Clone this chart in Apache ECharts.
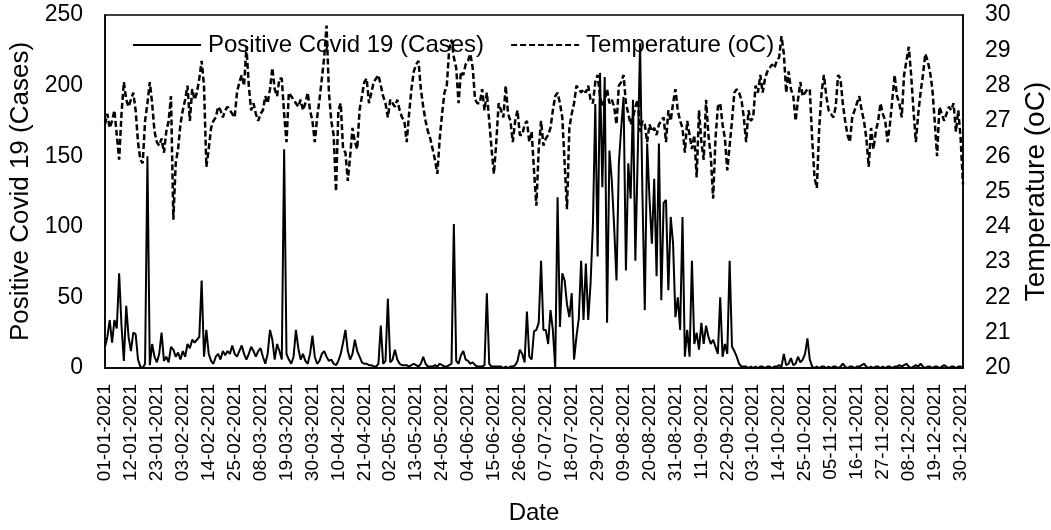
<!DOCTYPE html>
<html>
<head>
<meta charset="utf-8">
<script src="https://cdn.jsdelivr.net/npm/echarts@6/dist/echarts.min.js"></script>
<style>
  html, body { margin: 0; padding: 0; background: #fff; }
  #chart { width: 1051px; height: 530px; }
</style>
</head>
<body>
<div id="chart"></div>
<script>
// Daily positive Covid 19 cases, 01-01-2021 .. 31-12-2021
const cases = [
  15, 22, 34, 18, 34, 28, 67, 30, 5, 44,
  22, 12, 25, 24, 6, 1, 0, 3, 150, 2,
  17, 8, 4, 10, 25, 5, 8, 4, 15, 13,
  8, 11, 6, 12, 8, 17, 14, 20, 18, 20,
  22, 62, 8, 27, 10, 5, 3, 8, 10, 6,
  12, 9, 12, 10, 16, 10, 8, 12, 16, 10,
  6, 10, 15, 12, 8, 12, 14, 8, 3, 10,
  27, 20, 6, 17, 12, 6, 155, 10, 6, 3,
  8, 27, 14, 6, 10, 5, 3, 10, 23, 8,
  3, 5, 10, 12, 8, 5, 6, 3, 2, 5,
  10, 18, 27, 12, 6, 10, 20, 12, 8, 4,
  3, 3, 2, 2, 1, 1, 3, 30, 3, 5,
  49, 4, 6, 13, 6, 3, 2, 2, 2, 1,
  2, 3, 2, 1, 3, 8, 3, 1, 1, 1,
  2, 1, 3, 2, 1, 1, 2, 3, 102, 5,
  3, 9, 12, 6, 5, 3, 4, 2, 1, 1,
  1, 2, 53, 3, 1, 1, 1, 1, 1, 0,
  1, 0, 1, 1, 2, 5, 13, 10, 4, 40,
  8, 6, 26, 27, 32, 76, 27, 27, 17, 41,
  27, 0, 121, 29, 67, 62, 45, 36, 53, 6,
  22, 35, 76, 34, 74, 34, 60, 102, 187, 79,
  209, 128, 206, 32, 154, 133, 100, 62, 145, 170,
  192, 69, 145, 120, 190, 76, 150, 230, 123, 41,
  159, 120, 88, 134, 65, 159, 48, 117, 119, 55,
  107, 88, 36, 50, 27, 107, 8, 27, 8, 76,
  17, 25, 13, 32, 17, 30, 22, 17, 20, 15,
  10, 50, 8, 17, 10, 76, 15, 12, 8, 3,
  1, 1, 1, 0, 1, 0, 1, 0, 1, 1,
  0, 1, 1, 0, 1, 1, 2, 1, 10, 2,
  3, 7, 2, 3, 8, 4, 6, 10, 21, 6,
  1, 0, 1, 0, 1, 1, 0, 1, 0, 1,
  1, 0, 1, 3, 1, 0, 1, 1, 0, 1,
  1, 2, 3, 1, 0, 1, 0, 1, 1, 0,
  1, 0, 1, 1, 0, 1, 1, 2, 1, 2,
  3, 1, 0, 1, 2, 1, 3, 1, 0, 1,
  1, 0, 1, 1, 0, 1, 2, 1, 0, 1,
  1, 0, 1, 1, 0
];

// Daily temperature (oC)
const temperature = [
  26.9, 27.2, 26.8, 27.0, 27.3, 26.6, 25.9, 27.2, 28.1, 27.6,
  27.4, 27.6, 27.8, 27.3, 26.4, 25.9, 25.8, 27.0, 27.5, 28.1,
  27.5, 26.7, 26.4, 26.3, 26.5, 26.1, 26.7, 27.0, 27.7, 24.2,
  25.8, 26.2, 26.9, 27.3, 27.6, 28.0, 27.0, 27.9, 27.6, 27.8,
  28.2, 28.7, 28.0, 25.7, 26.2, 26.8, 27.0, 27.1, 27.4, 27.3,
  27.1, 27.3, 27.4, 27.3, 27.2, 27.1, 27.8, 28.1, 28.3, 28.0,
  29.1, 28.0, 27.3, 27.5, 27.2, 27.0, 27.2, 27.3, 27.7, 27.5,
  27.9, 28.5, 27.9, 27.7, 28.2, 28.2, 27.2, 26.4, 27.8, 27.7,
  27.6, 27.5, 27.4, 27.6, 27.3, 27.5, 27.8, 27.3, 27.0, 26.4,
  27.1, 27.6, 28.2, 28.8, 29.7, 27.8, 27.0, 26.6, 25.0, 27.3,
  27.5, 26.2, 26.1, 25.3, 26.0, 26.8, 26.4, 26.2, 27.3, 27.7,
  28.1, 28.2, 27.5, 27.8, 28.1, 28.2, 28.3, 28.0, 27.7, 27.5,
  27.1, 27.6, 27.5, 27.4, 27.6, 27.3, 27.1, 27.0, 26.4, 27.2,
  27.9, 28.4, 28.6, 28.7, 27.9, 27.4, 27.0, 26.7, 26.5, 26.2,
  25.9, 25.5, 26.5, 27.2, 27.8, 28.0, 29.0, 29.3, 28.8, 28.5,
  27.5, 28.4, 28.3, 28.6, 28.7, 28.9, 28.5, 27.6, 27.5, 27.5,
  27.9, 27.3, 27.8, 27.0, 26.2, 25.5, 26.4, 27.5, 27.3, 27.1,
  28.0, 27.2, 27.0, 26.4, 27.0, 27.3, 26.6, 26.6, 26.9, 27.0,
  26.4, 26.7, 25.6, 24.6, 26.2, 27.0, 26.3, 26.5, 26.6, 26.8,
  27.3, 27.7, 27.8, 27.5, 27.1, 25.8, 24.5, 26.8, 27.2, 27.5,
  28.0, 27.9, 27.8, 27.9, 27.8, 28.0, 27.6, 27.5, 28.1, 28.3,
  27.7, 27.4, 27.6, 27.9, 27.5, 27.6, 27.4, 26.9, 28.0, 28.1,
  28.3, 27.5, 27.2, 26.9, 27.1, 27.4, 27.6, 26.7, 27.0, 26.9,
  26.4, 26.9, 26.7, 26.8, 26.6, 26.9, 27.0, 27.1, 26.4, 27.3,
  27.0, 27.5, 27.9, 27.3, 27.0, 26.8, 26.1, 27.0, 26.6, 26.2,
  26.6, 25.4, 27.3, 26.4, 25.9, 27.6, 26.6, 26.0, 24.8, 26.5,
  27.4, 27.5, 26.9, 26.5, 25.6, 26.3, 27.0, 27.8, 27.9, 27.8,
  27.6, 27.1, 26.4, 27.3, 27.0, 27.1, 28.0, 27.8, 28.3, 27.8,
  28.2, 28.4, 28.5, 28.6, 28.5, 28.7, 28.8, 29.4, 28.9, 27.8,
  28.4, 27.9, 27.7, 27.0, 27.6, 28.1, 27.7, 27.8, 27.9, 27.9,
  26.5, 25.4, 25.1, 26.8, 27.8, 28.3, 27.7, 27.3, 27.2, 27.1,
  27.4, 28.3, 28.2, 27.5, 27.0, 26.6, 26.4, 27.1, 27.3, 27.5,
  27.7, 27.3, 27.0, 26.5, 25.7, 26.8, 26.2, 26.7, 27.0, 27.5,
  27.2, 27.0, 26.4, 26.9, 27.6, 28.3, 27.7, 27.5, 27.1, 28.3,
  28.7, 29.1, 28.3, 27.3, 26.4, 27.2, 27.8, 28.3, 28.9, 28.7,
  28.4, 27.9, 27.0, 26.0, 27.4, 27.2, 27.0, 27.2, 27.4, 27.3,
  27.5, 26.7, 27.3, 26.5, 25.2
];

// Category labels: one per day of 2021, dd-mm-yyyy
const dates = [];
for (let i = 0; i < cases.length; i++) {
  const d = new Date(Date.UTC(2021, 0, 1 + i));
  const dd = String(d.getUTCDate()).padStart(2, '0');
  const mm = String(d.getUTCMonth() + 1).padStart(2, '0');
  dates.push(`${dd}-${mm}-${d.getUTCFullYear()}`);
}

const FONT = '"Liberation Sans", Arial, sans-serif';
const chart = echarts.init(document.getElementById('chart'), null, { renderer: 'canvas' });

chart.setOption({
  animation: false,
  backgroundColor: '#fff',
  textStyle: { fontFamily: FONT, color: '#000' },
  grid: {
    left: 105, right: 88, top: 15, bottom: 162,
    outerBoundsMode: 'none',
    show: true, borderColor: '#000', borderWidth: 1.5
  },
  legend: {
    left: 127, top: 28,
    itemWidth: 68, itemHeight: 14, itemGap: 26,
    // hide the marker dot, keep only the line sample
    itemStyle: { opacity: 0 },
    textStyle: { fontFamily: FONT, fontSize: 24, color: '#000', padding: [0, 0, 0, 2] },
    data: ['Positive Covid 19 (Cases)', 'Temperature (oC)']
  },
  xAxis: {
    type: 'category',
    data: dates,
    boundaryGap: false,
    name: 'Date',
    nameLocation: 'middle',
    nameGap: 133,
    nameTextStyle: { fontFamily: FONT, fontSize: 24, color: '#000' },
    axisLine: { lineStyle: { color: '#000', width: 1.5 } },
    axisTick: { show: false },
    axisLabel: {
      interval: 10, rotate: 90, margin: 16,
      fontFamily: FONT, fontSize: 19, color: '#000'
    },
    splitLine: { show: false }
  },
  yAxis: [
    {
      type: 'value', min: 0, max: 250, interval: 50,
      name: 'Positive Covid 19 (Cases)',
      nameLocation: 'middle', nameGap: 69,
      nameTextStyle: { fontFamily: FONT, fontSize: 26, color: '#000' },
      axisLine: { show: true, lineStyle: { color: '#000', width: 1.5 } },
      axisTick: { show: false },
      axisLabel: { margin: 22, fontFamily: FONT, fontSize: 23, color: '#000' },
      splitLine: { show: false }
    },
    {
      type: 'value', min: 20, max: 30, interval: 1,
      name: 'Temperature (oC)',
      nameLocation: 'middle', nameGap: 59,
      nameTextStyle: { fontFamily: FONT, fontSize: 28, color: '#000' },
      axisLine: { show: true, lineStyle: { color: '#000', width: 1.5 } },
      axisTick: { show: false },
      axisLabel: { margin: 22, fontFamily: FONT, fontSize: 23, color: '#000' },
      splitLine: { show: false }
    }
  ],
  series: [
    {
      name: 'Positive Covid 19 (Cases)',
      type: 'line',
      yAxisIndex: 0,
      data: cases,
      symbol: 'none',
      lineStyle: { color: '#000', width: 2 },
      itemStyle: { color: '#000' }
    },
    {
      name: 'Temperature (oC)',
      type: 'line',
      yAxisIndex: 1,
      data: temperature,
      symbol: 'none',
      lineStyle: { color: '#000', width: 2.5, type: [6, 3] },
      itemStyle: { color: '#000' }
    }
  ]
});
</script>
</body>
</html>
